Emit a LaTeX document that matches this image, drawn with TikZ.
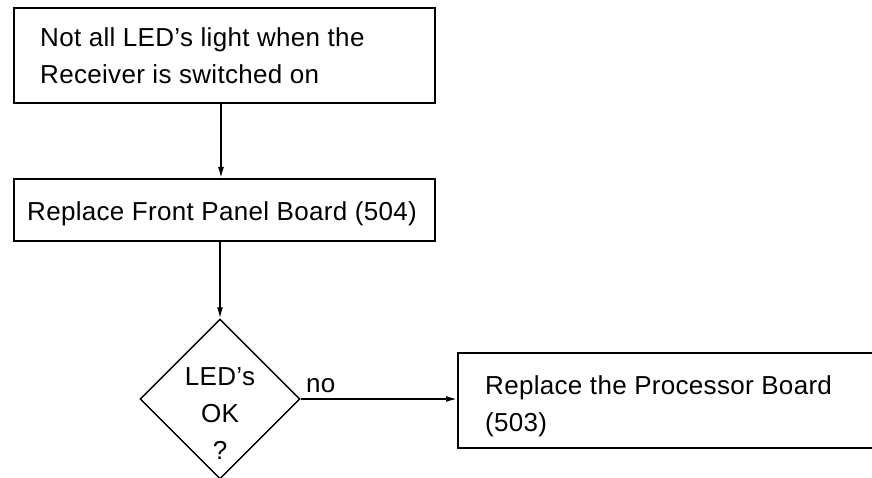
\documentclass[tikz,border=0pt]{standalone}
\usepackage{fontspec}
\setmainfont[LetterSpace=1.2]{Liberation Sans}
\usetikzlibrary{shapes.geometric,arrows.meta}
\begin{document}
\begin{tikzpicture}[x=1pt,y=-1pt,
  every node/.style={font=\fontsize{26}{37}\selectfont},
  boxstyle/.style={draw,line width=1.6pt,rectangle,inner sep=0pt,anchor=north west},
  txt/.style={inner sep=0pt,anchor=base west},
  conn/.style={line width=1.6pt,-{Latex[length=11pt,width=6pt]}}]
\useasboundingbox (0,0) rectangle (872,478);
\clip (0,0) rectangle (872,478);
\node[boxstyle,minimum width=421pt,minimum height=95pt] (start) at (13,7) {};
\node[txt] (t1) at (40,47) {Not all LED’s light when the};
\node[txt] (t2) at (40,84) {Receiver is switched on};
\node[boxstyle,minimum width=421pt,minimum height=62pt] (front) at (13,178) {};
\node[txt] (t3) at (27,221) {Replace Front Panel Board (504)};
\node[draw,diamond,line width=1.4pt,minimum width=160pt,minimum height=160pt,inner sep=0pt] (dec) at (220,399) {};
\node[inner sep=0pt,align=center,anchor=center] (dect) at (220,414) {LED’s\\OK\\?};
\node[boxstyle,minimum width=460pt,minimum height=95pt] (proc) at (457,352) {};
\node[txt] (t4) at (485,394) {Replace the Processor Board};
\node[txt] (t5) at (485,431) {(503)};
\draw[conn] (start.south -| 221,0) -- (front.north -| 221,0);
\draw[conn] (front.south -| dec.north) -- (dec.north);
\draw[conn] (dec.east) -- (dec.east -| proc.west) node[midway,above,xshift=-58pt,yshift=1pt,inner sep=4pt] (no) {no};
\end{tikzpicture}
\end{document}
